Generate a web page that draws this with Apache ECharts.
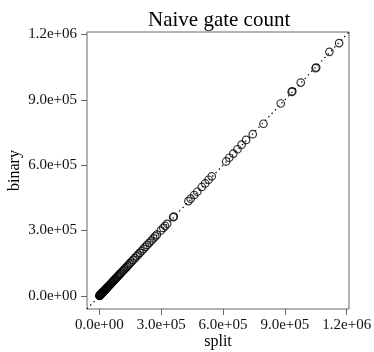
<!DOCTYPE html>
<html>
<head>
<meta charset="utf-8">
<script src="https://cdn.jsdelivr.net/npm/echarts@6/dist/echarts.min.js"></script>
<style>
  html, body { margin: 0; padding: 0; background: #fff; }
  #chart { width: 374px; height: 352px; }
</style>
</head>
<body>
<div id="chart"></div>
<script>
// gate counts (x = split, y = binary)
const split = [
  500, 1000, 1500, 2000, 3000, 4000, 5000, 6000, 7000, 8000, 9000, 10000,
  11500, 13000, 14500, 16000, 17500, 19000, 21000, 23000, 25000, 27000, 29000,
  31000, 33000, 35000, 37000, 39500, 42000, 44500, 47000, 50000, 53000, 56000,
  59000, 62000, 65000, 68000, 71000, 74000, 77000, 81000, 85000, 89000, 93000,
  97000, 101000, 106000, 111000, 116000, 121000, 126000, 132000, 138000,
  144000, 150000, 157000, 164000, 172000, 180000, 188000, 196000, 205000,
  214000, 223000, 232000, 242000, 252000, 262000, 271000, 279000, 298000,
  310000, 319000, 329000, 358000, 361000, 432000, 443000, 460000, 475000,
  497000, 513000, 530000, 545000, 615000, 630000, 650000, 670000, 690000,
  712000, 744000, 796000, 880000, 933000, 936000, 977000, 1049000, 1052000,
  1116000, 1163000
];
const binary = [
  600, 1100, 1400, 2200, 3000, 3900, 5200, 6000, 7100, 8300, 9000, 10200,
  11300, 13200, 14600, 16300, 17400, 19400, 21000, 23300, 24800, 27400, 29200,
  31500, 33100, 35600, 37300, 39800, 42200, 45000, 47300, 50100, 53600, 56200,
  59500, 62400, 65900, 68300, 71800, 74600, 77900, 81300, 85700, 89400, 93800,
  97600, 102000, 106400, 111900, 116600, 121800, 127100, 132400, 139200,
  144800, 151500, 157900, 165200, 173100, 181400, 189500, 197600, 206300,
  215800, 224900, 234000, 243600, 253500, 263900, 273000, 281000, 300000,
  312000, 321000, 331000, 361000, 364000, 435000, 446000, 463000, 478000,
  500000, 516000, 533000, 549000, 617000, 634000, 653000, 673000, 694000,
  716000, 742000, 790000, 883000, 936000, 939000, 979000, 1045000, 1048000,
  1120000, 1160000
];
const tickValues = [0, 300000, 600000, 900000, 1200000];
const axisMin = -60000;
const axisMax = 1211000;
// y = x reference line
const refLine = [axisMin, axisMax];

const points = split.map((x, i) => [x, binary[i]]);
const serif = "Liberation Serif";

// R style labels: 3.0e+05
const sci = (v) => v.toExponential(1).replace(/e([+-])(\d)$/, "e$10$2");

const axisCommon = {
  type: "value",
  min: axisMin,
  max: axisMax,
  nameLocation: "middle",
  nameMoveOverlap: false,
  nameTextStyle: { fontFamily: serif, fontSize: 16, color: "#000" },
  axisLine: { show: false, onZero: false },
  splitLine: { show: false },
  axisTick: {
    show: true,
    inside: false,
    length: 6,
    customValues: tickValues,
    lineStyle: { color: "#666", width: 1 },
  },
  axisLabel: {
    customValues: tickValues,
    fontFamily: serif,
    fontSize: 15,
    color: "#111",
    formatter: sci,
  },
};

const chart = echarts.init(document.getElementById("chart"));
chart.setOption({
  animation: false,
  title: {
    text: "Naive gate count",
    left: 148,
    top: 10,
    padding: 0,
    textStyle: { fontFamily: serif, fontSize: 21, fontWeight: "normal", color: "#000" },
  },
  grid: {
    left: 87,
    right: 25,
    top: 32,
    bottom: 43,
    outerBoundsMode: "none",
    show: true,
    borderColor: "#666",
    borderWidth: 1,
  },
  xAxis: {
    ...axisCommon,
    name: "split",
    nameGap: 25,
    axisLabel: { ...axisCommon.axisLabel, margin: 9 },
  },
  yAxis: {
    ...axisCommon,
    name: "binary",
    nameGap: 64,
    axisLabel: { ...axisCommon.axisLabel, margin: 10 },
  },
  series: [
    {
      type: "line",
      data: refLine.map((v) => [v, v]),
      symbol: "none",
      lineStyle: { color: "#000", width: 1.3, type: [1.3, 3.5] },
      z: 1,
    },
    {
      type: "scatter",
      data: points,
      symbol: "circle",
      symbolSize: 7.5,
      itemStyle: { color: "rgba(0,0,0,0)", borderColor: "#000", borderWidth: 1.2 },
      z: 2,
    },
  ],
});
</script>
</body>
</html>
